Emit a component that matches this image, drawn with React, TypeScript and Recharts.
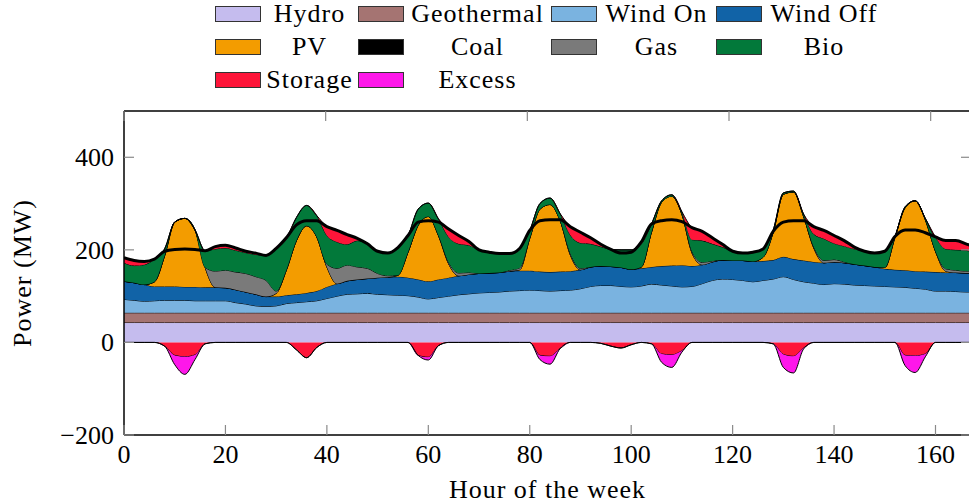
import React from 'react';
import { ComposedChart, Area, Line, XAxis, YAxis } from 'recharts';

const hours = [
  0, 2, 4, 6, 8, 10, 12, 14, 16, 18,
  20, 22, 24, 26, 28, 30, 32, 34, 36, 38,
  40, 42, 44, 46, 48, 50, 52, 54, 56, 58,
  60, 62, 64, 66, 68, 70, 72, 74, 76, 78,
  80, 82, 84, 86, 88, 90, 92, 94, 96, 98,
  100, 102, 104, 106, 108, 110, 112, 114, 116, 118,
  120, 122, 124, 126, 128, 130, 132, 134, 136, 138,
  140, 142, 144, 146, 148, 150, 152, 154, 156, 158,
  160, 162, 164, 166, 167,
];

const hydro = [
  43, 43, 43, 43, 43, 43, 43, 43, 43, 43,
  43, 43, 43, 43, 43, 43, 43, 43, 43, 43,
  43, 43, 43, 43, 43, 43, 43, 43, 43, 43,
  43, 43, 43, 43, 43, 43, 43, 43, 43, 43,
  43, 43, 43, 43, 43, 43, 43, 43, 43, 43,
  43, 43, 43, 43, 43, 43, 43, 43, 43, 43,
  43, 43, 43, 43, 43, 43, 43, 43, 43, 43,
  43, 43, 43, 43, 43, 43, 43, 43, 43, 43,
  43, 43, 43, 43, 43,
];

const geothermal = [
  21, 21, 21, 21, 21, 21, 21, 21, 21, 21,
  21, 21, 21, 21, 21, 21, 21, 21, 21, 21,
  21, 21, 21, 21, 21, 21, 21, 21, 21, 21,
  21, 21, 21, 21, 21, 21, 21, 21, 21, 21,
  21, 21, 21, 21, 21, 21, 21, 21, 21, 21,
  21, 21, 21, 21, 21, 21, 21, 21, 21, 21,
  21, 21, 21, 21, 21, 21, 21, 21, 21, 21,
  21, 21, 21, 21, 21, 21, 21, 21, 21, 21,
  21, 21, 21, 21, 21,
];

const windOn = [
  29, 27, 25, 26, 27, 27, 27, 26, 26, 26,
  26, 22, 19, 15, 14, 15, 20, 22, 24, 26,
  31, 36, 40, 41, 42, 40, 39, 38, 37, 34,
  30, 33, 36, 39, 41, 43, 44, 45, 47, 48,
  49, 48, 47, 48, 49, 52, 57, 59, 59, 57,
  56, 58, 62, 60, 58, 56, 57, 63, 70, 73,
  72, 70, 67, 70, 73, 78, 72, 67, 64, 61,
  63, 62, 60, 59, 58, 57, 56, 55, 53, 51,
  47, 47, 46, 45, 45,
];

const windOff = [
  39, 38, 36, 31, 30, 30, 29, 30, 29, 29,
  28, 28, 26, 25, 21, 20, 18, 18, 19, 21,
  25, 27, 29, 31, 32, 36, 38, 40, 39, 38,
  38, 39, 40, 41, 42, 42, 42, 42, 43, 43,
  42, 41, 41, 41, 41, 41, 42, 42, 41, 41,
  38, 38, 37, 41, 44, 47, 44, 41, 40, 41,
  41, 43, 44, 42, 41, 43, 44, 46, 46, 47,
  47, 46, 45, 43, 41, 38, 37, 37, 37, 38,
  41, 40, 41, 41, 41,
];

const pv = [
  0, 0, 0, 10, 66, 139, 148, 123, 43, 0,
  0, 0, 0, 0, 0, 7, 54, 116, 145, 117,
  43, 0, 0, 0, 0, 0, 0, 3, 55, 117,
  140, 95, 30, 0, 0, 0, 0, 0, 0, 2,
  70, 135, 146, 110, 35, 0, 0, 0, 0, 0,
  0, 3, 75, 138, 150, 110, 28, 0, 0, 0,
  0, 0, 0, 8, 60, 135, 145, 95, 30, 0,
  0, 0, 0, 0, 0, 3, 70, 135, 152, 112,
  45, 3, 0, 0, 0,
];

const coal = [
  0, 0, 0, 0, 0, 0, 0, 0, 0, 0,
  0, 0, 0, 0, 0, 0, 0, 0, 0, 0,
  0, 0, 0, 0, 0, 0, 0, 0, 0, 0,
  0, 0, 0, 0, 0, 0, 0, 0, 0, 0,
  0, 0, 0, 0, 0, 0, 0, 0, 0, 0,
  0, 0, 0, 0, 0, 0, 0, 0, 0, 0,
  0, 0, 0, 0, 0, 0, 0, 0, 0, 0,
  0, 0, 0, 0, 0, 0, 0, 0, 0, 0,
  0, 0, 0, 0, 0,
];

const gas = [
  0, 0, 0, 0, 0, 0, 0, 0, 0, 35,
  38, 38, 40, 38, 35, 5, 0, 0, 0, 0,
  6, 33, 34, 27, 22, 9, 3, 0, 0, 0,
  0, 0, 3, 6, 4, 0, 0, 0, 2, 4,
  0, 0, 0, 0, 3, 3, 0, 0, 0, 0,
  0, 0, 0, 0, 0, 0, 3, 5, 2, 0,
  0, 0, 0, 0, 0, 0, 0, 0, 2, 5,
  5, 2, 0, 0, 0, 0, 0, 0, 0, 0,
  0, 5, 5, 4, 4,
];

const bio = [
  40, 37, 43, 49, 15, 0, 0, 0, 36, 48,
  48, 47, 45, 48, 54, 92, 67, 50, 44, 46,
  62, 57, 45, 57, 53, 48, 49, 60, 36, 35,
  29, 36, 55, 63, 59, 51, 45, 41, 36, 42,
  17, 12, 14, 15, 40, 55, 50, 42, 37, 38,
  42, 50, 18, 3, 3, 5, 26, 47, 37, 28,
  20, 16, 20, 18, 5, 3, 2, 5, 28, 47,
  35, 34, 33, 31, 30, 35, 2, 2, 0, 3,
  31, 43, 44, 45, 42,
];

const storage = [
  11, 11, 7, 0, 0, 0, 0, 0, 0, 5,
  6, 5, 3, 3, 0, 0, 3, 0, 0, 0,
  19, 25, 21, 5, 0, 0, 0, 0, 0, 0,
  0, 0, 17, 18, 8, 0, 0, 0, 0, 0,
  0, 0, 0, 0, 18, 23, 13, 5, 0, 0,
  0, 4, 0, 0, 0, 0, 26, 20, 13, 6,
  0, 0, 0, 0, 0, 0, 0, 0, 16, 18,
  17, 12, 4, 0, 0, 0, 0, 0, 0, 0,
  0, 18, 20, 14, 13,
];

const storageCharge = [
  0, 0, 0, 0, -8, -28, -31, -27, -3, 0,
  0, 0, 0, 0, 0, 0, 0, -16, -33, -11,
  0, 0, 0, 0, 0, 0, 0, 0, 0, -28,
  -32, -7, 0, 0, 0, 0, 0, 0, 0, 0,
  0, -28, -30, -13, 0, 0, 0, -2, -8, -12,
  -5, 0, -3, -25, -27, -18, 0, 0, 0, 0,
  0, 0, 0, 0, -3, -26, -30, -12, 0, 0,
  0, 0, 0, 0, 0, 0, 0, -28, -29, -25,
  0, 0, 0, 0, 0,
];

const excess = [
  0, 0, 0, 0, 0, -20, -38, -10, 0, 0,
  0, 0, 0, 0, 0, 0, 0, 0, 0, 0,
  0, 0, 0, 0, 0, 0, 0, 0, 0, 0,
  -6, 0, 0, 0, 0, 0, 0, 0, 0, 0,
  0, -9, -17, 0, 0, 0, 0, 0, 0, 0,
  0, 0, 0, -18, -27, -3, 0, 0, 0, 0,
  0, 0, 0, 0, 0, -28, -36, -2, 0, 0,
  0, 0, 0, 0, 0, 0, 0, -22, -36, -6,
  0, 0, 0, 0, 0,
];

const demand = [
  183, 177, 175, 180, 197, 201, 202, 201, 198, 207,
  210, 204, 197, 193, 188, 203, 226, 254, 263, 263,
  250, 242, 233, 225, 213, 197, 193, 205, 231, 260,
  263, 260, 245, 231, 218, 200, 195, 192, 192, 203,
  242, 263, 265, 265, 250, 238, 226, 212, 201, 193,
  195, 217, 256, 263, 265, 261, 248, 240, 226, 212,
  197, 193, 195, 202, 240, 260, 263, 263, 250, 242,
  231, 220, 206, 197, 193, 197, 229, 243, 243, 237,
  228, 220, 220, 213, 209,
];

const xTicks = [0, 20, 40, 60, 80, 100, 120, 140, 160];
const yTicks = [-200, 0, 200, 400];

const seriesNames = ['Hydro', 'Geothermal', 'Wind On', 'Wind Off', 'PV', 'Coal', 'Gas', 'Bio', 'Storage', 'Excess'];
const seriesKeys = ['hydro', 'geothermal', 'windOn', 'windOff', 'pv', 'coal', 'gas', 'bio', 'storage', 'excess'];
const seriesColors = ['#c5bcee', '#a57472', '#7ab3e0', '#1163a7', '#f39c00', '#000000', '#7a7a7a', '#02793a', '#fe1539', '#fe17ea'];

const data = hours.map((h, i) => ({
  h,
  hydro: hydro[i],
  geothermal: geothermal[i],
  windOn: windOn[i],
  windOff: windOff[i],
  pv: pv[i],
  coal: coal[i],
  gas: gas[i],
  bio: bio[i],
  storage: storage[i],
  storageCharge: storageCharge[i],
  excess: excess[i],
  demand: demand[i],
}));

const FONT = '"Liberation Serif", "Times New Roman", serif';
const TICK_LEN = 10;
const TICK_COLOR = '#8a8a8a';

const legendCols = [
  { swatchX: 215, textEnd: 358 },
  { swatchX: 358, textEnd: 551 },
  { swatchX: 551, textEnd: 716 },
  { swatchX: 716, textEnd: 886 },
];
const legendRowY = [14, 47, 80];
const SW_W = 46;
const SW_H = 16;

const LegendBlock = () => (
  <div style={{ position: 'absolute', left: 0, top: 0, width: 969, height: 100 }}>
    {seriesNames.map((name, i) => {
      const row = Math.floor(i / 4);
      const col = legendCols[i % 4];
      const cy = legendRowY[row];
      return (
        <React.Fragment key={name}>
          <div
            style={{
              position: 'absolute',
              left: col.swatchX,
              top: cy - SW_H / 2,
              width: SW_W,
              height: SW_H,
              boxSizing: 'border-box',
              background: seriesColors[i],
              border: '1px solid #333',
            }}
          />
          <div
            style={{
              position: 'absolute',
              left: col.swatchX + SW_W,
              width: col.textEnd - col.swatchX - SW_W,
              top: cy - 16,
              height: 32,
              lineHeight: '32px',
              textAlign: 'center',
              fontFamily: FONT,
              fontSize: 26,
              letterSpacing: '1px',
              color: '#000',
              whiteSpace: 'nowrap',
            }}
          >
            {name}
          </div>
        </React.Fragment>
      );
    })}
  </div>
);

const YLabel = (props: any) => {
  const vb = props && props.viewBox ? props.viewBox : { x: 0, y: 111, width: 124, height: 324 };
  const cx = vb.x + 22;
  const cy = vb.y + vb.height / 2;
  return (
    <text
      x={cx}
      y={cy}
      transform={`rotate(-90 ${cx} ${cy})`}
      textAnchor="middle"
      dominantBaseline="central"
      fontFamily={FONT}
      fontSize={26}
      letterSpacing="1px"
      fill="#000"
    >
      Power (MW)
    </text>
  );
};

const fmtY = (v: number) => (v < 0 ? '\u2212' + String(-v) : String(v));

const BottomTick = (props: any) => {
  const { x, y, payload } = props;
  return (
    <g>
      <line x1={x} x2={x} y1={y} y2={y - TICK_LEN} stroke={TICK_COLOR} strokeWidth={1.2} />
      <text x={x} y={y + 28} textAnchor="middle" fontFamily={FONT} fontSize={26} fill="#000">
        {payload.value}
      </text>
    </g>
  );
};

const TopTick = (props: any) => {
  const { x, y } = props;
  return <line x1={x} x2={x} y1={y} y2={y + TICK_LEN} stroke={TICK_COLOR} strokeWidth={1.2} />;
};

const LeftTick = (props: any) => {
  const { x, y, payload } = props;
  return (
    <g>
      <line x1={x} x2={x + TICK_LEN} y1={y} y2={y} stroke={TICK_COLOR} strokeWidth={1.2} />
      <text x={x - 10} y={y} dy="0.34em" textAnchor="end" fontFamily={FONT} fontSize={26} fill="#000">
        {fmtY(payload.value)}
      </text>
    </g>
  );
};

const RightTick = (props: any) => {
  const { x, y } = props;
  return <line x1={x - TICK_LEN} x2={x} y1={y} y2={y} stroke={TICK_COLOR} strokeWidth={1.2} />;
};

export default function App() {
  return (
    <div style={{ position: 'absolute', left: 0, top: 0, width: 969, height: 503, overflow: 'hidden', background: '#fff' }}>
      <ComposedChart
        width={972}
        height={503}
        data={data}
        margin={{ top: 110, right: 0, bottom: 0, left: 0 }}
      >
        <XAxis
          dataKey="h"
          type="number"
          domain={[0, 167]}
          allowDataOverflow
          ticks={xTicks}
          interval={0}
          height={68}
          tickSize={0}
          tickMargin={0}
          axisLine={{ stroke: '#000', strokeWidth: 1.5 }}
          tickLine={false}
          tick={<BottomTick />}
          label={{ value: 'Hour of the week', position: 'insideBottom', offset: 5, fontFamily: FONT, fontSize: 26, fill: '#000', letterSpacing: '1px' } as any}
        />
        <XAxis
          xAxisId="top"
          orientation="top"
          type="number"
          domain={[0, 167]}
          allowDataOverflow
          ticks={xTicks}
          interval={0}
          height={1}
          tickSize={0}
          tickMargin={0}
          axisLine={{ stroke: '#000', strokeWidth: 1.5 }}
          tickLine={false}
          tick={<TopTick />}
        />
        <YAxis
          type="number"
          domain={[-200, 500]}
          allowDataOverflow
          ticks={yTicks}
          interval={0}
          width={124}
          tickSize={0}
          tickMargin={0}
          axisLine={{ stroke: '#000', strokeWidth: 1.5 }}
          tickLine={false}
          tick={<LeftTick />}
          label={<YLabel />}
        />
        <YAxis
          yAxisId="right"
          orientation="right"
          type="number"
          domain={[-200, 500]}
          allowDataOverflow
          ticks={yTicks}
          interval={0}
          width={1}
          tickSize={0}
          tickMargin={0}
          axisLine={{ stroke: '#000', strokeWidth: 1.5 }}
          tickLine={false}
          tick={<RightTick />}
        />
        {seriesKeys.slice(0, 9).map((k, i) => (
          <Area
            key={k}
            dataKey={k}
            name={seriesNames[i]}
            stackId="pos"
            type="monotone"
            fill={seriesColors[i]}
            fillOpacity={1}
            stroke="#000"
            strokeWidth={1}
            dot={false}
            activeDot={false}
            isAnimationActive={false}
          />
        ))}
        <Area
          dataKey="storageCharge"
          name="Storage"
          stackId="neg"
          type="monotone"
          fill={seriesColors[8]}
          fillOpacity={1}
          stroke="#000"
          strokeWidth={1}
          dot={false}
          activeDot={false}
          legendType="none"
          isAnimationActive={false}
        />
        <Area
          dataKey="excess"
          name="Excess"
          stackId="neg"
          type="monotone"
          fill={seriesColors[9]}
          fillOpacity={1}
          stroke="#000"
          strokeWidth={1}
          dot={false}
          activeDot={false}
          isAnimationActive={false}
        />
        <Line
          dataKey="demand"
          name="Demand"
          type="monotone"
          stroke="#000"
          strokeWidth={3}
          dot={false}
          activeDot={false}
          legendType="none"
          isAnimationActive={false}
        />
      </ComposedChart>
      <LegendBlock />
    </div>
  );
}
